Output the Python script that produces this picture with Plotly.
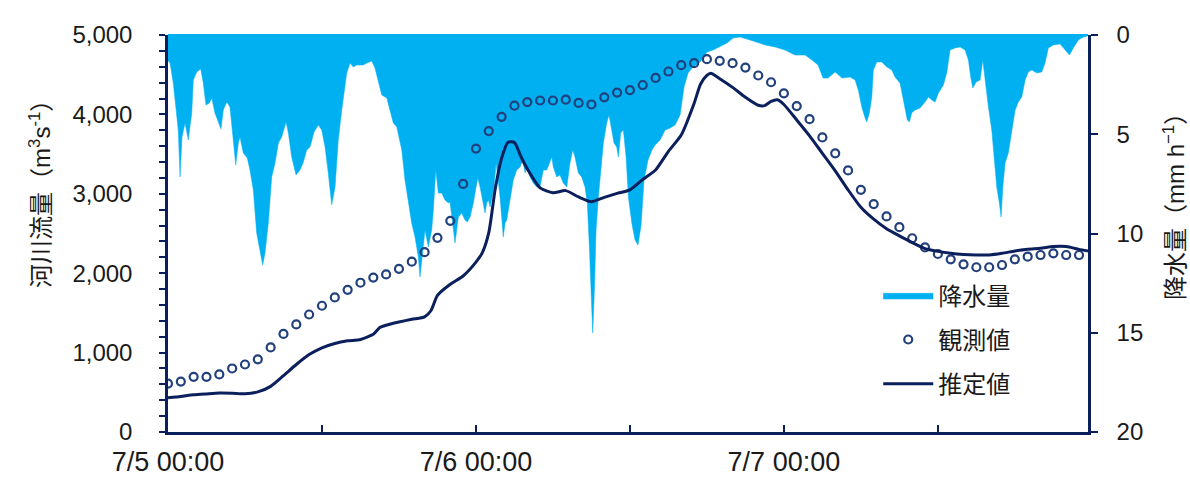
import plotly.graph_objects as go

# Time axis: hours since 7/5 00:00
x_tick_hours = [0, 24, 48]
x_tick_labels = ["7/5 00:00", "7/6 00:00", "7/7 00:00"]

# Precipitation (mm/h) sampled along the event
rain_t = [0.00, 0.16, 0.41, 0.62, 0.80, 0.94, 1.09, 1.33, 1.58, 1.85, 1.97, 2.24, 2.55, 2.75, 2.96,
          3.22, 3.41, 3.66, 3.92, 4.13, 4.31, 4.58, 4.83, 5.09, 5.28, 5.48, 5.61, 5.87, 6.18, 6.39,
          6.65, 6.91, 7.17, 7.38, 7.56, 7.82, 8.08, 8.34, 8.60, 8.86, 9.20, 9.38, 9.64, 9.98, 10.29,
          10.55, 10.81, 11.07, 11.38, 11.72, 11.98, 12.24, 12.49, 12.76, 13.02, 13.27, 13.54, 13.72,
          13.93, 14.19, 14.44, 14.71, 14.96, 15.22, 15.49, 15.88, 16.13, 16.39, 16.66, 17.05, 17.30,
          17.56, 17.83, 18.03, 18.22, 18.47, 18.73, 18.99, 19.25, 19.51, 19.64, 19.77, 19.90, 20.03,
          20.29, 20.55, 20.68, 20.87, 21.07, 21.33, 21.59, 21.85, 21.98, 22.24, 22.37, 22.63, 22.89,
          23.15, 23.33, 23.54, 23.80, 24.01, 24.14, 24.32, 24.53, 24.71, 24.84, 24.97, 25.10, 25.23,
          25.41, 25.57, 25.74, 25.88, 26.13, 26.27, 26.40, 26.52, 26.66, 26.91, 27.18, 27.44, 27.65,
          27.83, 27.96, 28.22, 28.47, 28.74, 28.99, 29.25, 29.52, 29.72, 29.91, 30.03, 30.30, 30.55,
          30.81, 31.08, 31.33, 31.54, 31.72, 31.98, 32.24, 32.50, 32.68, 32.84, 32.97, 33.10, 33.23,
          33.36, 33.54, 33.73, 33.93, 34.19, 34.37, 34.58, 34.76, 34.97, 35.10, 35.28, 35.49, 35.70,
          35.88, 36.17, 36.40, 36.63, 36.87, 37.10, 37.41, 37.72, 37.96, 38.35, 38.74, 39.13, 39.52,
          39.91, 40.22, 40.53, 40.92, 41.47, 42.01, 42.48, 43.02, 43.57, 44.04, 44.58, 45.36, 45.91,
          46.53, 47.31, 48.09, 48.87, 49.65, 50.19, 50.66, 51.05, 51.44, 51.99, 52.53, 53.16, 53.55,
          53.80, 54.07, 54.33, 54.46, 54.66, 54.85, 54.97, 55.24, 55.63, 56.02, 56.41, 56.66, 57.05,
          57.26, 57.44, 57.62, 57.78, 57.96, 58.22, 58.61, 59.00, 59.26, 59.52, 59.78, 60.04, 60.43,
          60.69, 60.95, 61.34, 61.73, 62.12, 62.38, 62.56, 62.72, 62.98, 63.29, 63.50, 63.68, 63.94,
          64.20, 64.38, 64.59, 64.79, 64.93, 65.06, 65.24, 65.49, 65.76, 66.02, 66.27, 66.54, 66.80,
          67.05, 67.32, 67.71, 68.10, 68.35, 68.61, 69.00, 69.53, 69.91, 70.25, 70.56, 70.95, 71.34,
          71.65]
rain_mm = [1.30, 1.41, 2.42, 3.78, 4.79, 7.15, 5.14, 4.43, 5.29, 3.93, 2.27, 1.86, 1.71, 2.42, 3.53,
           3.43, 3.17, 3.93, 4.38, 4.74, 3.78, 3.38, 3.63, 5.14, 6.55, 5.44, 5.14, 5.94, 6.20, 6.80,
           7.81, 9.97, 10.83, 11.59, 10.98, 9.47, 7.15, 6.45, 5.44, 5.14, 4.38, 4.94, 6.15, 7.05, 6.80,
           6.40, 5.79, 5.64, 4.89, 4.53, 4.79, 5.64, 6.95, 8.56, 7.66, 5.29, 3.78, 2.87,
           1.91, 1.41, 1.61, 1.51, 1.51, 1.51, 1.41, 1.31, 1.66, 2.37, 3.02, 3.17, 3.78,
           4.43, 4.63, 5.29, 5.79, 7.30, 8.46, 9.47, 10.18, 11.18, 12.19, 11.49, 10.48, 9.82,
           10.68, 9.82, 8.82, 6.80, 7.96, 7.96, 8.31, 8.46, 8.41, 9.67, 10.48, 9.17, 8.97,
           9.32, 9.42, 9.17, 8.46, 7.66, 7.20, 7.66, 8.46, 8.97, 8.46, 8.31, 8.66, 8.16,
           7.66, 6.45, 7.30, 8.16, 10.18, 9.47, 9.32, 8.82, 8.16, 7.30, 6.80, 6.65, 6.30,
           6.95, 6.65, 7.15, 7.46, 7.66, 7.66, 6.80, 6.80, 6.45, 6.15, 6.65, 7.15, 7.05,
           7.46, 7.66, 6.45, 5.79, 6.15, 6.95, 7.15, 7.66, 8.46, 10.68, 12.85, 15.01, 12.85,
           9.82, 8.16, 6.80, 5.44, 4.43, 4.03, 4.79, 5.44, 5.64, 6.15, 4.94, 4.79, 6.15,
           8.16, 9.57, 10.33, 10.58, 9.57, 7.30, 6.30, 5.79, 5.54, 5.29, 4.79, 4.69, 4.53,
           4.03, 2.62, 1.91, 1.61, 1.36, 0.86, 0.76, 0.60, 0.40, 0.15, 0.10, 0.25, 0.35,
           0.50, 0.60, 0.76, 1.01, 1.01, 1.26, 1.51, 2.17, 2.17, 1.86, 2.17, 2.12, 2.27,
           2.77, 3.63, 4.18, 4.38, 3.93, 3.12, 1.76, 1.36, 1.36, 1.61, 1.76, 2.12, 2.42,
           3.12, 3.63, 4.28, 4.38, 3.93, 3.78, 3.68, 3.38, 3.12, 3.27, 3.38, 2.92, 2.52,
           1.91, 0.76, 0.65, 0.60, 0.76, 1.26, 2.12, 2.67, 2.37, 2.27, 1.26, 2.27, 3.63,
           4.79, 6.15, 7.66, 8.46, 9.17, 7.66, 6.45, 5.94, 4.94, 3.78, 3.38, 3.12, 2.27,
           1.86, 1.76, 1.91, 1.86, 1.41, 0.65, 0.50, 0.45, 0.76, 1.01, 0.65, 0.25, 0.10,
           0.05]

# Observed river discharge (m3/s), hourly
obs_t = list(range(72))
obs_q = [610, 635, 695, 695, 725, 800, 850, 915, 1065, 1235, 1355, 1480, 1590, 1695, 1790, 1880,
         1945, 1985, 2055, 2145, 2265, 2445, 2660, 3125, 3570, 3790, 3970, 4110, 4155, 4175, 4175,
         4185, 4145, 4125, 4215, 4275, 4305, 4370, 4460, 4540, 4620, 4645, 4695, 4675, 4645, 4590,
         4490, 4405, 4265, 4105, 3940, 3710, 3510, 3295, 3050, 2870, 2715, 2580, 2440, 2325, 2242,
         2175, 2112, 2075, 2075, 2103, 2175, 2208, 2229, 2250, 2229, 2229]

# Estimated river discharge (m3/s)
est_t = [0, 1, 2, 3, 4, 5, 6, 7, 8, 9, 10, 11, 12, 13, 14, 15, 16, 16.5, 17, 18, 19, 20, 20.5, 21,
         22, 23, 24, 24.5, 25, 25.5, 26, 26.5, 27, 27.5, 28, 29, 30, 31, 32, 33, 34, 35, 36, 37, 38,
         39, 40, 41, 41.5, 42, 42.3, 43, 44, 45, 46, 46.5, 47, 47.5, 48, 49, 50, 51, 52, 53, 54, 55,
         56, 57, 58, 59, 60, 61, 62, 63, 64, 65, 66, 67, 68, 69, 70, 71, 71.7]
est_q = [432, 448, 468, 480, 490, 488, 482, 505, 575, 710, 850, 975, 1060, 1115, 1148, 1165, 1230,
         1315, 1345, 1385, 1420, 1450, 1530, 1720, 1860, 1965, 2140, 2260, 2510, 3060, 3450, 3650,
         3645, 3470, 3315, 3075, 3014, 3040, 2960, 2901, 2955, 3005, 3050, 3180, 3300, 3535, 3740,
         4137, 4380, 4490, 4517, 4450, 4340, 4215, 4115, 4110, 4165, 4185, 4125, 3930, 3730, 3510,
         3290, 3050, 2830, 2680, 2560, 2470, 2385, 2310, 2275, 2250, 2235, 2229, 2229, 2250, 2280,
         2303, 2313, 2335, 2335, 2300, 2280]

flow_tick_vals = [0, 1000, 2000, 3000, 4000, 5000]
flow_tick_text = [f"{v:,}" for v in flow_tick_vals]
rain_tick_vals = [0, 5, 10, 15, 20]

NAVY = "#0b1f5c"
DOT = "#22407c"
SKY = "#00b0f0"
TXT = "#1a1a1a"
FONT = "Liberation Sans, Arial, Noto Sans CJK JP, sans-serif"

fig = go.Figure()

fig.add_trace(go.Scatter(
    x=rain_t, y=rain_mm, yaxis="y", name="降水量",
    mode="lines", line=dict(color=SKY, width=0.5),
    fill="tozeroy", fillcolor=SKY, legendgroup="a",
))
fig.add_trace(go.Scatter(
    x=obs_t, y=obs_q, yaxis="y2", name="観測値",
    mode="markers",
    marker=dict(symbol="circle-open", size=8, color=DOT, line=dict(width=2.2, color=DOT)),
    legendgroup="b",
))
fig.add_trace(go.Scatter(
    x=est_t, y=est_q, yaxis="y2", name="推定値",
    mode="lines", line=dict(color=NAVY, width=3, shape="spline", smoothing=0.6),
    legendgroup="c",
))

fig.update_layout(
    width=1190, height=478,
    margin=dict(l=168, r=102, t=35, b=46, autoexpand=False),
    paper_bgcolor="white", plot_bgcolor="white",
    font=dict(family=FONT, size=24, color=TXT),
    showlegend=True,
    legend=dict(
        x=0.772, y=0.40, xanchor="left", yanchor="top",
        bgcolor="rgba(0,0,0,0)", font=dict(size=24, color=TXT),
        tracegroupgap=10, itemwidth=50,
    ),
    xaxis=dict(
        range=[0, 71.7], tickmode="array", tickvals=x_tick_hours, ticktext=x_tick_labels,
        ticks="inside", ticklen=7, tickwidth=2, tickcolor=NAVY,
        minor=dict(dtick=12, tick0=0, ticks="inside", ticklen=7, tickwidth=2, tickcolor=NAVY),
        showline=True, linecolor=NAVY, linewidth=2.5, automargin=False,
        showgrid=False, zeroline=False, ticklabelstandoff=4,
        tickfont=dict(size=27, color=TXT),
    ),
    yaxis=dict(
        range=[20, 0], side="right", tickmode="array", tickvals=rain_tick_vals,
        ticks="outside", ticklen=7, tickwidth=2, tickcolor=NAVY,
        showline=True, linecolor=NAVY, linewidth=2.5, automargin=False,
        showgrid=False, zeroline=False, ticklabelstandoff=14,
    ),
    yaxis2=dict(
        range=[0, 5000], side="left", overlaying="y", tickmode="array",
        tickvals=flow_tick_vals, ticktext=flow_tick_text,
        ticks="outside", ticklen=6, tickwidth=2, tickcolor=NAVY,
        minor=dict(dtick=200, tick0=0, ticks="outside", ticklen=6, tickwidth=2, tickcolor=NAVY),
        showline=True, linecolor=NAVY, linewidth=2.5, automargin=False,
        showgrid=False, zeroline=False, ticklabelstandoff=22,
    ),
    annotations=[
        dict(text="河川流量（m<sup>3</sup>s<sup>-1</sup>）", textangle=-90,
             xref="paper", yref="paper", x=-0.139, y=0.615,
             xanchor="center", yanchor="middle", showarrow=False,
             font=dict(size=24, color=TXT)),
        dict(text="降水量（mm h<sup>−1</sup>）", textangle=-90,
             xref="paper", yref="paper", x=1.0935, y=0.582,
             xanchor="center", yanchor="middle", showarrow=False,
             font=dict(size=24, color=TXT)),
    ],
    shapes=[dict(type="line", xref="paper", yref="paper", x0=0, x1=1, y0=1, y1=1,
                 line=dict(color=SKY, width=2), layer="above")],
)

fig.write_html("out.html")
